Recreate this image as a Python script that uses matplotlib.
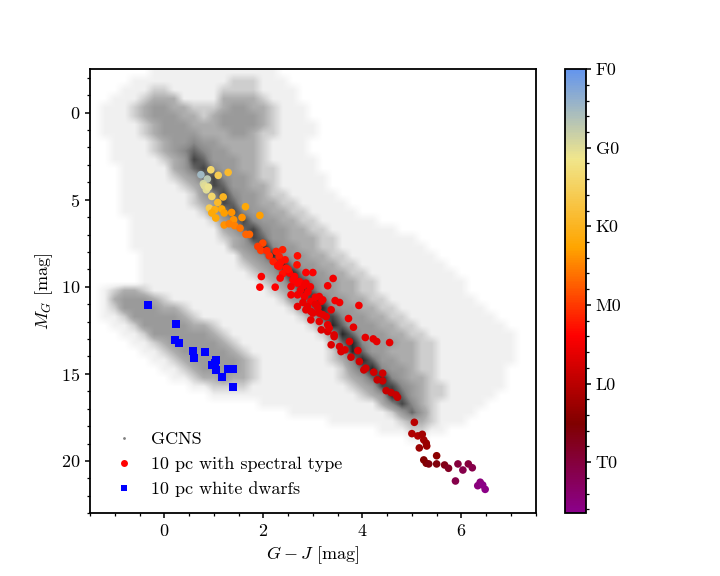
import numpy as np
import matplotlib
matplotlib.use('Agg')
from matplotlib import pyplot as plt
from matplotlib.colors import LinearSegmentedColormap, Normalize
from matplotlib.lines import Line2D
from matplotlib.ticker import MultipleLocator

plt.rcParams['font.family'] = 'serif'
plt.rcParams['font.serif'] = ['cmr10']
plt.rcParams['mathtext.fontset'] = 'cm'
plt.rcParams['axes.formatter.use_mathtext'] = True
plt.rcParams['font.size'] = 13
plt.rcParams['axes.linewidth'] = 1.3
plt.rcParams['xtick.major.width'] = 1.1
plt.rcParams['ytick.major.width'] = 1.1
plt.rcParams['xtick.minor.width'] = 0.9
plt.rcParams['ytick.minor.width'] = 0.9

# GCNS background: density level (0-8),
# columns G-J from -1.5 to 7.5 (0.2 wide), rows M_G from -2.5 to 23 (0.5 tall)
gcns_density = [
    "00000 01111 11111 11110 00000 00000 00000 00000 00000",
    "00001 11111 11112 22111 00000 00000 00000 00000 00000",
    "00011 12211 11122 22111 10000 00000 00000 00000 00000",
    "00111 23331 11133 33211 10000 00000 00000 00000 00000",
    "01112 34433 22234 43321 11000 00000 00000 00000 00000",
    "01112 34443 32344 44321 11000 00000 00000 00000 00000",
    "01111 23444 33344 44321 11100 00000 00000 00000 00000",
    "01111 23444 43334 43221 11100 00000 00000 00000 00000",
    "00111 12344 54433 33211 11000 00000 00000 00000 00000",
    "00111 12345 65443 33211 11000 00000 00000 00000 00000",
    "00111 11234 76444 33211 11100 00000 00000 00000 00000",
    "00011 11134 67544 33221 11100 00000 00000 00000 00000",
    "00011 11123 46754 43221 11110 00000 00000 00000 00000",
    "00011 11112 34764 43321 11110 00000 00000 00000 00000",
    "00011 11111 24575 44322 11111 00000 00000 00000 00000",
    "00011 11111 23476 44332 21111 10000 00000 00000 00000",
    "00011 11111 12457 54433 22111 11000 00000 00000 00000",
    "00001 11111 11245 75443 32211 11110 00000 00000 00000",
    "00001 11111 11134 67544 33221 11111 10000 00000 00000",
    "00001 11111 11123 47644 33322 11111 11100 00000 00000",
    "00001 11111 11113 45854 43322 11111 11110 00000 00000",
    "00000 11111 11111 34585 44332 21111 11111 00000 00000",
    "00000 11111 11111 23458 54433 22111 11111 10000 00000",
    "00000 11111 11111 12346 85443 32211 11111 11000 00000",
    "00000 11111 11111 11234 77544 33221 11111 11100 00000",
    "01233 21111 11111 11123 48644 33221 11111 11100 00000",
    "01344 43211 11111 11112 45864 43322 11111 11110 00000",
    "01244 44332 11111 11111 24685 44332 21111 11111 00000",
    "01124 44443 21111 11111 12477 54433 22111 11111 10000",
    "00112 44444 33211 11111 11248 64443 32211 11111 11000",
    "00011 24444 44321 11111 11124 86444 33221 11111 11100",
    "00001 12344 44432 11111 11113 68544 43322 11111 11100",
    "00000 11234 44443 21111 11112 48644 33322 11111 11100",
    "00000 01123 44444 32111 11112 35864 43322 11111 11100",
    "00000 00112 34444 32111 11111 24685 44322 11111 11000",
    "00000 00011 23343 32111 11111 23468 54332 11111 11000",
    "00000 00000 11222 21111 11111 12347 75432 21111 11000",
    "00000 00000 00111 11111 11111 11234 86432 21111 10000",
    "00000 00000 00000 00111 11111 11113 57532 11111 00000",
    "00000 00000 00000 00000 11111 11111 24642 11110 00000",
    "00000 00000 00000 00000 00001 11111 12332 11100 00000",
    "00000 00000 00000 00000 00000 00001 11221 10000 00000",
    "00000 00000 00000 00000 00000 00000 00110 00000 00000",
    "00000 00000 00000 00000 00000 00000 00000 00000 00000",
    "00000 00000 00000 00000 00000 00000 00000 00000 00000",
    "00000 00000 00000 00000 00000 00000 00000 00000 00000",
    "00000 00000 00000 00000 00000 00000 00000 00000 00000",
    "00000 00000 00000 00000 00000 00000 00000 00000 00000",
    "00000 00000 00000 00000 00000 00000 00000 00000 00000",
    "00000 00000 00000 00000 00000 00000 00000 00000 00000",
    "00000 00000 00000 00000 00000 00000 00000 00000 00000",
]
gcns_extent = (-1.5, 7.5, 23.0, -2.5)

# 10 pc objects with spectral type (F0=0, G0=10, K0=20, M0=30, L0=40, T0=50)
spt_gj = [0.74, 0.87, 0.79, 0.81, 0.85, 0.89, 0.94, 1.09, 1.29, 0.96,
          1.19, 1.08, 0.91, 1.02, 0.96, 1.04, 1.16, 1.21, 1.36, 1.64,
          1.93, 1.57, 1.40, 1.21, 1.31, 1.42, 1.53, 1.65, 1.72, 1.99,
          1.89, 1.95, 2.07,
          2.26, 2.39, 2.12, 2.32, 2.20, 2.29, 2.44, 2.69, 2.68, 2.46,
          2.39, 2.53, 2.63, 1.96, 1.93, 2.24, 2.34, 2.86, 3.00, 3.41,
          3.30, 2.73, 2.81, 2.56, 2.69, 2.86, 2.69, 2.83, 2.96, 3.13,
          3.17, 2.56, 2.69, 2.89, 2.86, 3.00, 2.96, 3.13, 3.27, 3.30,
          3.37, 3.45, 3.54, 3.93, 3.72, 3.82, 3.17, 3.30, 3.43, 3.13,
          3.33, 3.43, 3.37, 3.54, 3.65, 3.74, 3.91, 3.57, 4.06, 4.22,
          4.29, 4.55, 3.77, 3.94, 4.07, 4.03, 4.23, 4.41, 4.30, 4.41,
          4.48, 4.58, 4.68, 4.71, 3.20, 2.96, 2.32, 2.75, 2.90, 3.05,
          3.10, 2.80, 3.20, 3.05, 2.95, 2.60, 2.50, 2.35,
          5.05, 5.00, 5.12, 5.21, 5.24, 5.29, 5.30, 5.15, 5.50, 5.24,
          5.29, 5.34, 5.50, 5.66, 5.74, 5.93, 6.03, 6.14, 6.22, 5.88,
          6.33, 6.38, 6.43, 6.48]
spt_mg = [3.56, 3.81, 4.08, 4.20, 4.43, 4.27, 3.28, 3.60, 3.43, 4.81,
          4.84, 5.16, 5.48, 5.57, 5.76, 6.05, 5.53, 5.76, 5.73, 5.40,
          5.90, 6.02, 6.15, 6.45, 6.38, 6.49, 6.63, 6.99, 6.99, 7.49,
          7.68, 7.91, 7.93,
          7.97, 7.87, 8.22, 8.26, 8.55, 8.79, 8.45, 8.22, 8.74, 8.93,
          9.25, 9.21, 9.41, 9.41, 10.02, 10.02, 9.50, 9.18, 9.18, 9.52,
          9.94, 9.70, 9.94, 9.98, 9.79, 9.79, 10.46, 10.56, 10.84, 10.56,
          10.84, 10.46, 11.13, 11.13, 11.32, 11.51, 11.90, 11.51, 11.71, 12.18,
          11.32, 10.79, 10.90, 11.07, 11.82, 12.32, 12.47, 12.57, 12.76, 11.99,
          12.37, 12.86, 13.33, 13.43, 13.62, 13.14, 13.66, 13.72, 12.91, 12.99,
          13.14, 13.20, 14.04, 14.29, 14.67, 14.77, 14.90, 14.96, 15.34, 15.40,
          15.96, 16.07, 16.21, 16.34, 10.75, 11.41, 8.83, 10.20, 10.30, 11.00,
          11.20, 10.90, 11.60, 10.60, 10.00, 9.60, 9.00, 8.60,
          17.78, 18.43, 18.56, 18.47, 18.79, 18.98, 19.14, 19.25, 19.70, 19.94,
          20.13, 20.17, 20.17, 20.23, 20.42, 20.17, 20.52, 20.17, 20.39, 21.15,
          21.42, 21.22, 21.38, 21.63]
spt_code = [5, 7, 9, 10, 10, 11, 14, 16, 19, 14,
            20, 19, 16, 21, 22, 22, 22, 23, 24, 22,
            23, 24, 24, 24, 25, 25, 26, 27, 27, 29,
            30, 30, 31,
            32, 32, 31, 32, 32, 33, 33, 33, 33, 33,
            33, 34, 34, 34, 34, 34, 34, 34, 34, 35,
            35, 34, 35, 35, 34, 35, 35, 35, 35, 35,
            36, 35, 36, 36, 36, 36, 36, 36, 36, 36,
            36, 35, 35, 35, 35, 36, 37, 37, 37, 36,
            36, 37, 37, 37, 37, 37, 37, 37, 36, 36,
            36, 36, 38, 38, 38, 38, 38, 38, 39, 39,
            39, 39, 39, 39, 35, 36, 33, 35, 35, 36,
            36, 36, 36, 35, 35, 34, 33, 33,
            40, 41, 41, 42, 42, 43, 43, 43, 44, 45,
            45, 46, 46, 47, 48, 50, 51, 50, 51, 51,
            55, 55, 56, 56]

# 10 pc white dwarfs
wd_gj = [-0.33, 0.24, 0.22, 0.29, 0.59, 0.83, 0.61, 1.04, 1.02, 0.96,
         1.04, 1.29, 1.39, 1.17, 1.39]
wd_mg = [11.02, 12.11, 13.05, 13.20, 13.68, 13.74, 14.08, 14.20, 14.35, 14.48,
         14.75, 14.71, 14.71, 15.16, 15.73]

spt_ticks = [0, 10, 20, 30, 40, 50]
spt_labels = ['F0', 'G0', 'K0', 'M0', 'L0', 'T0']
spt_range = (0, 56.5)

dens = np.array([[int(c) for c in "".join(r.split())] for r in gcns_density], dtype=float)
assert dens.shape == (51, 45), dens.shape

gray_cmap = LinearSegmentedColormap.from_list(
    'gcns', ['#ffffff', '#f1f1f1', '#cfcfcf', '#adadad', '#9b9b9b',
             '#8a8a8a', '#676767', '#454545', '#272727'])
spt_cmap = LinearSegmentedColormap.from_list(
    'spt', ['cornflowerblue', 'khaki', 'orange', 'red', 'maroon', 'darkmagenta'])

fig = plt.figure(figsize=(7.2, 5.76), dpi=100)
ax = fig.add_axes([0.125, 0.109, 0.619, 0.771])
cax = fig.add_axes([0.785, 0.109, 0.029, 0.771])

ax.imshow(dens, extent=gcns_extent, origin='upper', cmap=gray_cmap, vmin=0, vmax=8,
          interpolation='bilinear', aspect='auto', zorder=0)

norm = Normalize(vmin=spt_range[0], vmax=spt_range[1])
sc = ax.scatter(spt_gj, spt_mg, c=spt_code, cmap=spt_cmap, norm=norm, s=30,
                linewidths=0, zorder=3)
ax.scatter(wd_gj, wd_mg, marker='s', color='blue', s=28, linewidths=0, zorder=3)

ax.set_xlim(-1.5, 7.5)
ax.set_ylim(23, -2.5)
ax.xaxis.set_major_locator(MultipleLocator(2))
ax.xaxis.set_minor_locator(MultipleLocator(0.5))
ax.yaxis.set_major_locator(MultipleLocator(5))
ax.yaxis.set_minor_locator(MultipleLocator(1))
ax.set_xlabel(r'$G-J$ [mag]')
ax.set_ylabel(r'$M_G$ [mag]')

handles = [
    Line2D([], [], ls='', marker='.', ms=2, color='gray'),
    Line2D([], [], ls='', marker='o', ms=5, color='red', mew=0),
    Line2D([], [], ls='', marker='s', ms=5, color='blue', mew=0),
]
labels = ['GCNS', '10 pc with spectral type', '10 pc white dwarfs']
ax.legend(handles, labels, loc='lower left', frameon=False, handletextpad=0.5)

cb = fig.colorbar(sc, cax=cax)
cb.set_ticks(spt_ticks, labels=spt_labels)
cb.ax.yaxis.set_minor_locator(MultipleLocator(2))
cb.ax.invert_yaxis()
cb.outline.set_linewidth(1.3)

fig.savefig('out.png', dpi=100)
